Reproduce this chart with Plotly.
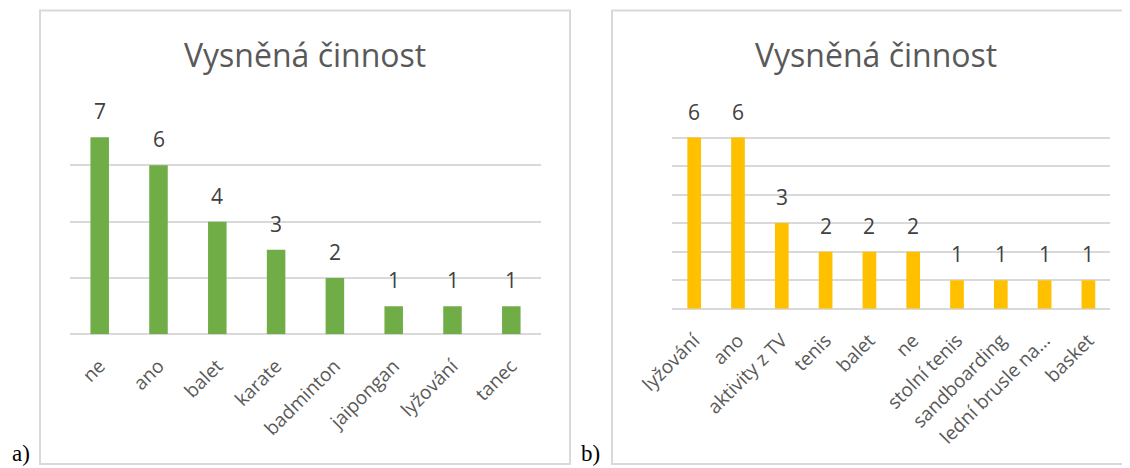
import plotly.graph_objects as go

# The page body adds an 8px margin; the figure is offset to compensate.
OFF = 8
W, H = 1130 - OFF, 468 - OFF

# Data
left_categories = ["ne", "ano", "balet", "karate", "badminton", "jaipongan", "lyžování", "tanec"]
left_values = [7, 6, 4, 3, 2, 1, 1, 1]
right_categories = ["lyžování", "ano", "aktivity z TV", "tenis", "balet", "ne",
                    "stolní tenis", "sandboarding", "lední brusle na…", "basket"]
right_values = [6, 6, 3, 2, 2, 2, 1, 1, 1, 1]
title_text = "Vysněná činnost"
panel_labels = ["a)", "b)"]

GREEN = "#70AD47"
GOLD = "#FFC000"
GRID = "#d9d9d9"
FONT = "Open Sans"


def px_x(p):
    return (p - OFF) / W


def px_y(p):
    return 1 - (p - OFF) / H


fig = go.Figure()
fig.add_trace(go.Bar(x=left_categories, y=left_values, marker_color=GREEN,
                     marker_line_width=0, width=0.315, xaxis="x", yaxis="y",
                     hoverinfo="x+y"))
fig.add_trace(go.Bar(x=right_categories, y=right_values, marker_color=GOLD,
                     marker_line_width=0, width=0.313, xaxis="x2", yaxis="y2",
                     hoverinfo="x+y"))

annotations = []
for c, v in zip(left_categories, left_values):
    annotations.append(dict(x=c, y=v, xref="x", yref="y", text=str(v), showarrow=False,
                            yanchor="bottom", yshift=10,
                            font=dict(family=FONT, size=21, color="#404040")))
for c, v in zip(right_categories, right_values):
    annotations.append(dict(x=c, y=v, xref="x2", yref="y2", text=str(v), showarrow=False,
                            yanchor="bottom", yshift=10,
                            font=dict(family=FONT, size=21, color="#404040")))

# titles
for cx in (305, 876):
    annotations.append(dict(x=px_x(cx), y=px_y(55), xref="paper", yref="paper",
                            text=title_text, showarrow=False, xanchor="center", yanchor="middle",
                            font=dict(family=FONT, size=32, color="#595959")))
# panel labels
for lx, lab in zip((10, 579), panel_labels):
    annotations.append(dict(x=px_x(lx), y=px_y(468), xref="paper", yref="paper",
                            text=lab, showarrow=False, xanchor="left", yanchor="bottom",
                            font=dict(family="Liberation Serif", size=23, color="#000000")))

shapes = [
    dict(type="rect", xref="paper", yref="paper", x0=px_x(40), x1=px_x(570),
         y0=px_y(464), y1=px_y(10.5), line=dict(color=GRID, width=2), fillcolor="rgba(0,0,0,0)"),
    dict(type="rect", xref="paper", yref="paper", x0=px_x(612), x1=px_x(1141),
         y0=px_y(464), y1=px_y(10.5), line=dict(color=GRID, width=2), fillcolor="rgba(0,0,0,0)"),
]

axis_common = dict(showline=False, ticks="", showgrid=False, automargin=False,
                   ticklabelstandoff=16,
                   tickfont=dict(family=FONT, size=19, color="#595959"), tickangle=-45)
yaxis_common = dict(showticklabels=False, showgrid=True, gridcolor=GRID, gridwidth=1.5,
                    zeroline=True, zerolinecolor=GRID, zerolinewidth=1.5, showline=False,
                    ticks="", automargin=False)

fig.update_layout(
    template="none",
    width=W, height=H,
    margin=dict(l=0, r=0, t=0, b=0, pad=0),
    paper_bgcolor="white", plot_bgcolor="white",
    showlegend=False,
    xaxis=dict(domain=[px_x(70.3), px_x(540.7)], anchor="y", **axis_common),
    yaxis=dict(domain=[px_y(334.3), px_y(109)], range=[0, 8], dtick=2, anchor="x", **yaxis_common),
    xaxis2=dict(domain=[px_x(672.3), px_x(1110.3)], anchor="y2", **axis_common),
    yaxis2=dict(domain=[px_y(308.7), px_y(109)], range=[0, 7], dtick=1, anchor="x2", **yaxis_common),
    annotations=annotations,
    shapes=shapes,
)

fig.write_html("out.html")
